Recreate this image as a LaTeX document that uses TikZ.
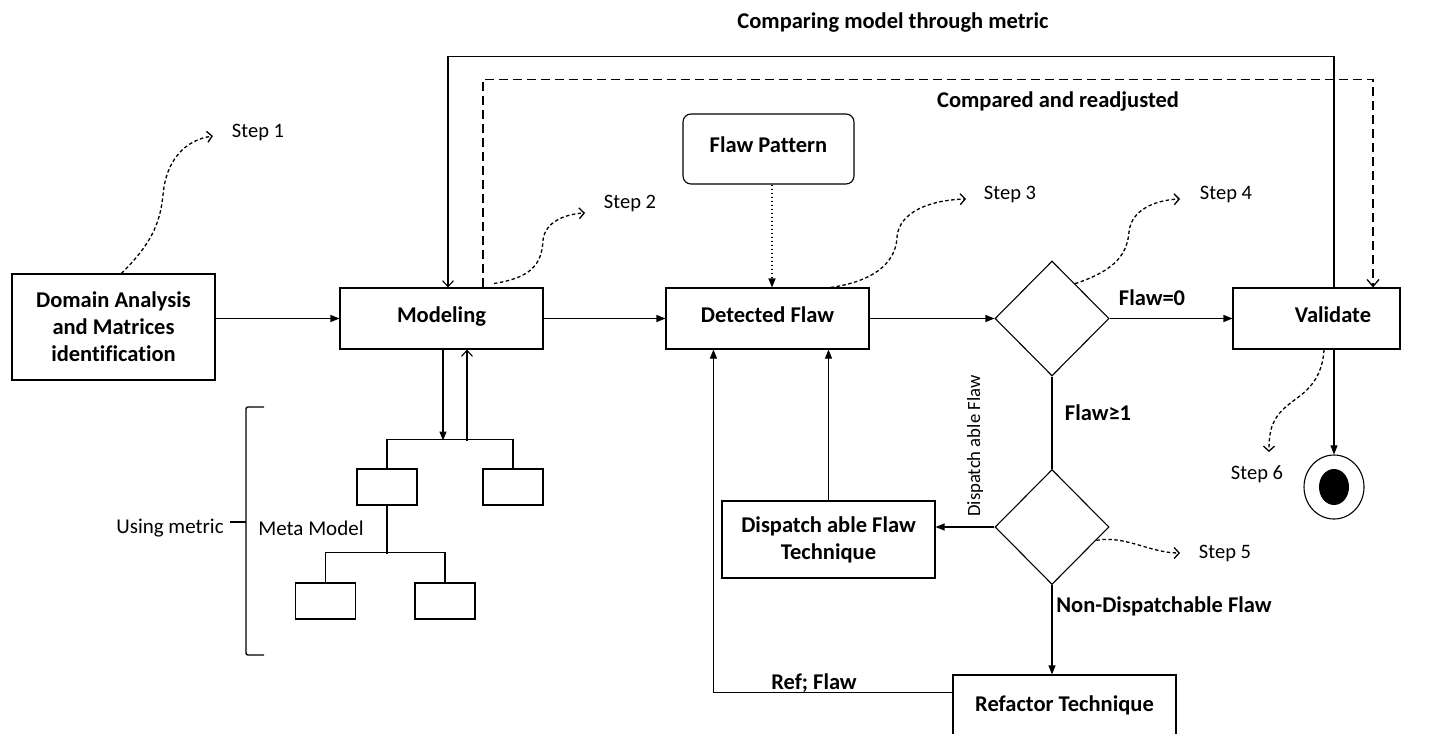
\documentclass[tikz,border=0pt]{standalone}
\usepackage{fontspec}
\setmainfont[Ligatures=NoCommon]{Carlito}
\usetikzlibrary{shapes.geometric,arrows.meta,calc}

\begin{document}
\begin{tikzpicture}[x=1pt,y=-1pt,
  every node/.style={font=\fontsize{22.5}{27}\selectfont\bfseries},
  line/.style={line width=1.1pt},
  box/.style={draw,line width=1.1pt,inner sep=0pt,align=center},
  mbox/.style={draw,line width=1.1pt,inner sep=0pt,minimum width=60,minimum height=36},
  decision/.style={draw,diamond,line width=1.1pt,inner sep=0pt,minimum width=114,minimum height=115},
  flow/.style={line width=1.1pt,-{Triangle[length=9pt,width=7pt]}},
  openflow/.style={line width=1.1pt,-{Straight Barb[length=6pt,width=11pt]}},
  dashflow/.style={line width=1.3pt,dash pattern=on 9pt off 5pt,-{Straight Barb[length=7pt,width=12pt]}},
  dotflow/.style={line width=1.5pt,dash pattern=on 1.5pt off 2.5pt,-{Triangle[length=9pt,width=7pt]}},
  stepcurve/.style={line width=1.3pt,dash pattern=on 3.5pt off 2.5pt,-{Straight Barb[length=5pt,width=11pt]}},
  steplbl/.style={font=\fontsize{20.5}{24}\selectfont},
  plainlbl/.style={font=\fontsize{21}{26}\selectfont},
]
\useasboundingbox (0,0) rectangle (1431,733);
\fill[white] (0,0) rectangle (1431,733);
\clip (0,0) rectangle (1431,733);

% main process boxes
\node[box,minimum width=203,minimum height=106] (dom) at (113.5,327) {Domain Analysis\\and Matrices\\identification};
\node[box,minimum width=203,minimum height=61] (model) at (441.5,318.5) {\raisebox{8pt}{Modeling}};
\node[box,minimum width=203,minimum height=61] (det) at (767.5,318.5) {\raisebox{8pt}{Detected Flaw}};
\node[box,rounded corners=8pt,minimum width=171,minimum height=70] (fp) at (768.5,149) {\raisebox{9pt}{Flaw Pattern}};
\node[decision] (d1) at (1052,318.5) {};
\node[box,minimum width=167,minimum height=61] (val) at (1316.5,318.5) {\raisebox{8pt}{\hspace*{33pt}Validate}};
\node[decision] (d2) at (1052,527) {};
\node[box,minimum width=213,minimum height=77] (disp) at (828.5,539.5) {Dispatch able Flaw\\Technique};
\node[box,minimum width=223,minimum height=70] (ref) at (1064.5,710) {\raisebox{12pt}{Refactor Technique}};

% final state
\node[draw,ellipse,line width=1.1pt,minimum width=60,minimum height=64,inner sep=0pt] (end) at (1334,487) {};
\node[fill,ellipse,minimum width=30,minimum height=36,inner sep=0pt] (endin) at (end) {};

% meta model tree
\node[mbox] (ma) at (387,487) {};
\node[mbox] (mb) at (513,487) {};
\node[mbox] (mc) at (325.5,601) {};
\node[mbox] (md) at (445,601) {};
\draw[line] (ma.north) -- ++(0,-29) coordinate (bar1) -| (mb.north);
\draw[line] (ma.south) -- ++(0,48) coordinate (bar2);
\draw[line] (mc.north) -- ++(0,-30) -| (md.north);
\draw[flow] ($(model.south)+(1.5,0)$) -- ++(0,91);
\draw[openflow] ($(model.south)+(25.5,91)$) -- ($(model.south)+(25.5,0)$);

% bracket beside the meta model
\draw[line width=1.4pt,rounded corners=2pt] (264,407) -- (246,407) -- (246,655) -- (264,655);
\draw[line width=1.4pt] (246,522) -- (230,522);
\node[plainlbl] (usem) at (170,528) {Using metric};
\node[plainlbl] (meta) at (311,528) {Meta Model};

% main flow
\draw[flow] (dom.east |- model.west) -- (model.west);
\draw[flow] (model.east) -- (det.west);
\draw[flow] (det.east) -- (d1.west);
\draw[flow] (d1.east) -- (val.west);
\node (f0) at (1152,298) {Flaw=0};
\draw[line] (d1.south) -- (d2.north);
\node (f1) at (1098,413) {Flaw≥1};
\draw[flow] (d2.west) -- (d2.west -| disp.east);
\node[font=\fontsize{18.7}{22}\selectfont,rotate=90] (dlbl) at (975,446) {Dispatch able Flaw};
\draw[flow] (d2.south) -- (d2.south |- ref.north);
\node (ndf) at (1164,606) {Non-Dispatchable Flaw};
\draw[flow] (disp.north) -- (disp.north |- det.south);
\draw[flow] ($(ref.north west)+(0,18)$) -| ($(det.south west)+(48,0)$);
\node (rf) at (814,683) {Ref; Flaw};
\draw[dotflow] ($(fp.south)+(3.5,0)$) -- ($(det.north)+(4.5,0)$);
\draw[flow] ($(val.south)+(17.5,0)$) -- (end.north);

% feedback loops
\draw[openflow] ($(val.north)+(17.5,0)$) -- ++(0,-231) -| ($(model.north)+(6.5,0)$);
\node (cmp) at (893,23) {Comparing model through metric};
\draw[dashflow] ($(model.north)+(41.5,0)$) -- ++(0,-208) -| ($(val.north)+(56.5,0)$);
\node (crd) at (1058,102) {Compared and readjusted};

% step markers
\node[steplbl] (s1) at (258,132) {Step 1};
\node[steplbl] (s2) at (630,203) {Step 2};
\node[steplbl] (s3) at (1010,194) {Step 3};
\node[steplbl] (s4) at (1226,194) {Step 4};
\node[steplbl] (s5) at (1225,553) {Step 5};
\node[steplbl] (s6) at (1257,474) {Step 6};
\coordinate (t1) at (213,136);
\coordinate (t2) at (585,213);
\coordinate (t3) at (966,199);
\coordinate (t4) at (1180,199);
\coordinate (t5) at (1180,553);
\coordinate (t6) at (1269,452);
\draw[stepcurve] ($(dom.north west)+(110,0)$) .. controls (150,245) and (160,225) .. (163,195) .. controls (166,160) and (185,140) .. (t1);
\draw[stepcurve] ($(model.north)+(52.5,-4)$) .. controls (530,278) and (542,265) .. (543,240) .. controls (545,222) and (565,214) .. (t2);
\draw[stepcurve] ($(det.north east)+(-39,0)$) .. controls (870,282) and (896,265) .. (897,237) .. controls (899,212) and (930,200) .. (t3);
\draw[stepcurve] ($(d1.north)!0.4!(d1.east)$) .. controls (1110,272) and (1127,258) .. (1129,232) .. controls (1131,210) and (1155,200) .. (t4);
\draw[stepcurve] ($(d2.east)!0.23!(d2.south)$) .. controls (1125,535) and (1150,553) .. (t5);
\draw[stepcurve] ($(val.south)+(7.5,0)$) .. controls (1322,385) and (1300,395) .. (1288,405) .. controls (1272,418) and (1269,430) .. (t6);
\end{tikzpicture}
\end{document}
